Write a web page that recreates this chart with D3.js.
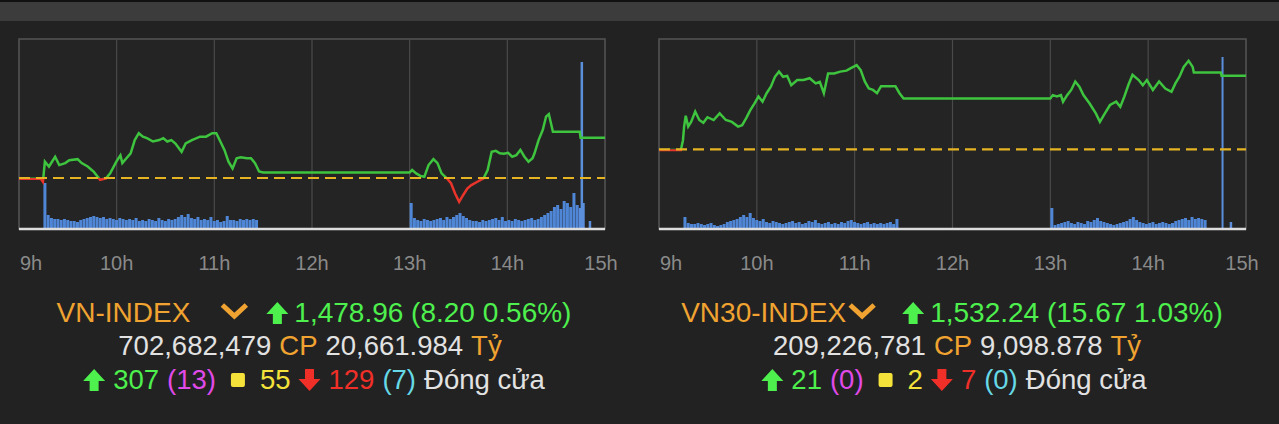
<!DOCTYPE html>
<html><head><meta charset="utf-8">
<script src="https://cdn.jsdelivr.net/npm/d3@7"></script>
<style>body{margin:0;background:#222;}svg{display:block;}</style>
</head><body>
<script>
// ---- data (minutes after 9:00, index value) ----
const hourTicks = ["9h","10h","11h","12h","13h","14h","15h"];
const vnRef = 1470.76;
const vnMin = [0,13.4,14.7,15.9,18.4,22.2,24.7,28.4,30.9,36.0,38.5,42.2,46.0,49.8,53.5,56.0,59.8,62.3,63.5,66.0,68.6,71.1,73.6,76.1,78.6,82.3,86.1,88.6,91.1,93.6,96.1,99.9,102.4,106.2,111.2,114.9,118.7,121.2,123.7,126.2,128.7,131.2,133.7,136.2,140.0,142.5,145.0,147.5,150,240,241.5,244,246.5,249,251.6,254.6,257.1,259.6,262.8,265.4,267.9,270.4,272.9,275.4,277.9,281.6,285.4,287.9,290.4,292.9,295.4,297.9,300.5,303.0,305.5,308.0,310.5,313.0,315.5,316.7,319.2,321.8,323.8,325.5,327.3,328.0,344.5,345,360];
const vnVal = [1470.6,1470.6,1470.0,1474.1,1473.1,1475.1,1473.4,1473.8,1474.4,1474.6,1473.8,1473.1,1472.0,1470.4,1470.7,1471.7,1474.1,1475.4,1473.8,1474.8,1475.8,1478.5,1479.9,1479.2,1478.9,1478.2,1478.5,1478.9,1478.2,1478.5,1477.8,1476.1,1477.8,1478.5,1479.2,1479.2,1479.9,1479.9,1478.2,1476.5,1474.1,1472.7,1474.8,1475.0,1474.8,1474.8,1473.8,1472.1,1471.9,1471.9,1472.4,1471.7,1471.2,1471.0,1473.4,1474.6,1473.8,1471.7,1470.7,1469.7,1467.6,1465.9,1467.3,1468.6,1469.3,1470.0,1470.7,1472.4,1476.1,1476.3,1475.8,1475.7,1475.9,1475.1,1475.4,1476.5,1475.1,1474.1,1474.8,1475.8,1478.5,1480.6,1483.3,1483.8,1481.2,1480.2,1480.2,1478.96,1478.96];
const vn30Ref = 1516.57;
const vn30Min = [0,13.4,14.7,15.4,16.4,17.9,19.7,22.2,24.7,27.2,29.7,33.5,37.2,41.0,44.7,48.5,51.0,53.5,56.0,58.5,61.0,63.5,66.0,68.6,71.1,73.6,76.1,78.6,81.1,84.8,88.6,92.4,96.1,98.6,101.1,103.7,107.4,111.2,115.0,117.4,121.2,123.7,126.2,128.7,131.2,133.7,136.2,141.3,145.0,147.5,150,240,241.5,244,246.5,247.8,250.3,252.8,255.3,257.8,260.3,264.1,267.9,270.4,272.9,276.6,280.4,282.9,285.4,287.9,290.4,294.2,296.7,299.2,302.9,306.7,310.5,314.3,316.7,319.2,321.8,324.8,327.3,328.0,344.5,345,360];
const vn30Val = [1516.4,1516.4,1518.5,1521.4,1523.7,1521.4,1522.4,1524.6,1522.8,1522.2,1523.4,1522.8,1524.2,1522.8,1522.4,1521.4,1521.7,1523.2,1524.9,1526.3,1527.8,1526.7,1528.5,1529.9,1532.0,1533.1,1532.0,1532.2,1530.2,1531.3,1531.3,1531.7,1530.6,1530.9,1528.5,1532.7,1532.7,1533.1,1533.3,1533.8,1534.5,1533.4,1531.0,1529.5,1529.2,1528.5,1530.0,1530.0,1530.0,1528.5,1527.4,1527.4,1528.1,1527.8,1528.1,1526.7,1528.1,1529.2,1531.0,1529.9,1528.1,1526.3,1524.2,1522.4,1523.9,1526.0,1526.7,1525.6,1527.8,1530.3,1532.4,1531.3,1530.2,1531.3,1529.2,1531.0,1529.5,1528.8,1530.6,1532.0,1534.1,1535.4,1534.1,1532.9,1532.9,1532.24,1532.24];
// volume (relative units) — morning bars every 2 min from 9:15, afternoon every 2 min from 13:00
const vnVolAM = [46,14,11,10,10,9,10,9,8,8,7,9,10,11,12,13,12,11,12,10,11,10,9,11,10,9,10,9,11,8,9,8,10,9,8,11,9,8,10,9,10,12,14,12,15,11,10,12,9,10,9,12,8,9,7,8,13,9,9,8,10,9,10,9,10,9];
const vnVolPM = [26,11,9,8,10,9,8,9,10,11,9,12,10,12,14,16,13,11,9,8,8,7,9,8,9,10,11,9,12,8,9,8,10,9,8,9,10,11,9,10,12,14,16,18,22,24,20,28,26,22,36,24];
const vnVolClose = [[344,21],[345,167],[346,26],[350,8]];
const vn30VolAM = [12,6,5,5,6,5,4,5,6,4,3,4,5,7,8,9,10,12,14,12,16,11,9,8,10,7,6,8,7,6,5,6,7,8,6,7,5,6,8,7,9,6,5,6,7,5,6,5,7,6,8,9,7,6,5,6,7,5,6,5,6,5,6,7,5,10];
const vn30VolPM = [21,4,5,6,7,8,6,5,7,6,5,8,7,9,11,8,7,6,5,4,5,6,7,8,10,12,9,7,6,5,6,7,5,6,7,6,5,6,8,9,10,11,9,12,10,11,10,9];
const vn30VolClose = [[345,172],[350,7]];

const W=1279,H=424;
const svg=d3.select("body").append("svg").attr("width",W).attr("height",H);
svg.append("rect").attr("width",W).attr("height",H).attr("fill","#222");
svg.append("rect").attr("width",W).attr("height",2).attr("fill","#111");
svg.append("rect").attr("y",2).attr("width",W).attr("height",19).attr("fill","#3c3c3c");

function chart(x0,x1,id,mins,vals,ref,pxPerPt,refY,volAM,volPM,volClose,spikeW){
  const top=39,bot=229;
  const g=svg.append("g");
  const x=d3.scaleLinear().domain([0,360]).range([x0,x1]);
  const yTop = ref + (refY-top)/pxPerPt, yBot = ref - (bot-refY)/pxPerPt;
  const y=d3.scaleLinear().domain([yBot,yTop]).range([bot,top]);
  const v=d3.scaleLinear().domain([0,100]).range([bot,bot-100]);
  g.append("rect").attr("x",x0).attr("y",top).attr("width",x1-x0).attr("height",bot-top)
    .attr("fill","#242424").attr("stroke","#555").attr("stroke-width",1.5);
  for(let h=1;h<6;h++) g.append("line").attr("x1",x(h*60)).attr("x2",x(h*60)).attr("y1",top).attr("y2",bot).attr("stroke","#4a4a4a").attr("stroke-width",1.2);
  const bars=[];
  volAM.forEach((d,i)=>bars.push([15+i*2,d]));
  volPM.forEach((d,i)=>bars.push([240+i*2,d]));
  g.selectAll(null).data(bars).enter().append("rect")
    .attr("x",d=>x(d[0])).attr("width",3).attr("y",d=>v(d[1])).attr("height",d=>bot-v(d[1]))
    .attr("fill","#4f86d6");
  g.selectAll(null).data(volClose).enter().append("rect")
    .attr("x",d=>x(d[0])).attr("width",d=>d[1]>100?spikeW:2.5).attr("y",d=>v(d[1])).attr("height",d=>bot-v(d[1]))
    .attr("fill","#5b8fdc");
  g.append("line").attr("x1",x0).attr("x2",x1).attr("y1",bot).attr("y2",bot).attr("stroke","#ddd").attr("stroke-width",2.5);
  const data=mins.map((m,i)=>[m,vals[i]]);
  const ry=y(ref);
  const defs=svg.append("defs");
  defs.append("clipPath").attr("id",id+"a").append("rect").attr("x",0).attr("y",0).attr("width",W).attr("height",ry);
  defs.append("clipPath").attr("id",id+"b").append("rect").attr("x",0).attr("y",ry).attr("width",W).attr("height",H);
  const lineL=d3.line().x(d=>x(d[0])).y(d=>y(d[1]));
  g.append("path").datum(data).attr("d",lineL).attr("fill","none").attr("stroke","#3ec43e").attr("stroke-width",2.5).attr("clip-path",`url(#${id}a)`);
  g.append("path").datum(data).attr("d",lineL).attr("fill","none").attr("stroke","#e8342a").attr("stroke-width",2.5).attr("clip-path",`url(#${id}b)`);
  g.append("line").attr("x1",x0).attr("x2",x1).attr("y1",ry).attr("y2",ry).attr("stroke","#e6b422").attr("stroke-width",2.2).attr("stroke-dasharray","11,6");
  g.selectAll(null).data(hourTicks).enter().append("text")
    .attr("x",(d,i)=>x(i*60)+ (i==0?12:i==6?-4:0)).attr("y",270).attr("text-anchor","middle")
    .attr("font-family","'Liberation Sans', Arial, sans-serif").attr("font-size",20).attr("fill","#8a8a8a").text(d=>d);
}
chart(19,605,"c1",vnMin,vnVal,vnRef,4.9,178,vnVolAM,vnVolPM,vnVolClose,2.5);
chart(659,1246,"c2",vn30Min,vn30Val,vn30Ref,4.7,149.3,vn30VolAM,vn30VolPM,vn30VolClose,2);

const C={or:"#f0a330",gr:"#4ef04e",wh:"#e2e2e2",mg:"#e04ae8",ye:"#f4e23a",rd:"#f03028",cy:"#66d8e6"};
function row(cx,y,items,fs){
  const g=svg.append("g").attr("font-family","'Liberation Sans', Arial, sans-serif").attr("font-size",fs);
  let x=0;
  items.forEach(it=>{
    if(it.t!==undefined){
      const t=g.append("text").attr("x",x).attr("y",y).attr("fill",it.c).text(it.t);
      x+=t.node().getComputedTextLength()+(it.gap??8);
    } else {
      const w=it.w||22;
      const s=g.append("g").attr("transform",`translate(${x},${y-9})`);
      if(it.k=="up") s.append("path").attr("d","M11,-11 L22,1 L15.5,1 L15.5,11 L6.5,11 L6.5,1 L0,1 Z").attr("fill",C.gr);
      if(it.k=="down") s.append("path").attr("d","M11,11 L22,-1 L15.5,-1 L15.5,-11 L6.5,-11 L6.5,-1 L0,-1 Z").attr("fill",C.rd);
      if(it.k=="sq") s.append("rect").attr("x",1).attr("y",-7).attr("width",14).attr("height",14).attr("rx",2).attr("fill",C.ye);
      if(it.k=="chev") s.append("path").attr("d","M2,-8 L14,3 L26,-8").attr("fill","none").attr("stroke",C.or).attr("stroke-width",5);
      x+=w+(it.gap??7);
    }
  });
  g.attr("transform",`translate(${cx-x/2},0)`);
}
row(318,322,[{t:"VN-INDEX",c:C.or,gap:30},{k:"chev",w:28,gap:18},{k:"up",w:22,gap:6},{t:"1,478.96 (8.20 0.56%)",c:C.gr}],28);
row(314,355,[{t:"702,682,479",c:C.wh},{t:"CP",c:C.or},{t:"20,661.984",c:C.wh},{t:"Tỷ",c:C.or}],27.5);
row(318,389,[{k:"up",w:22,gap:8},{t:"307",c:C.gr},{t:"(13)",c:C.mg,gap:14},{k:"sq",w:16,gap:14},{t:"55",c:C.ye},{k:"down",w:22,gap:8},{t:"129",c:C.rd},{t:"(7)",c:C.cy},{t:"Đóng cửa",c:C.wh}],27.5);
row(956,322,[{t:"VN30-INDEX",c:C.or,gap:2},{k:"chev",w:28,gap:26},{k:"up",w:22,gap:6},{t:"1,532.24 (15.67 1.03%)",c:C.gr}],28);
row(961,355,[{t:"209,226,781",c:C.wh},{t:"CP",c:C.or},{t:"9,098.878",c:C.wh},{t:"Tỷ",c:C.or}],27.5);
row(958,389,[{k:"up",w:22,gap:8},{t:"21",c:C.gr},{t:"(0)",c:C.mg,gap:14},{k:"sq",w:16,gap:14},{t:"2",c:C.ye},{k:"down",w:22,gap:8},{t:"7",c:C.rd},{t:"(0)",c:C.cy},{t:"Đóng cửa",c:C.wh}],27.5);
</script>
</body></html>
